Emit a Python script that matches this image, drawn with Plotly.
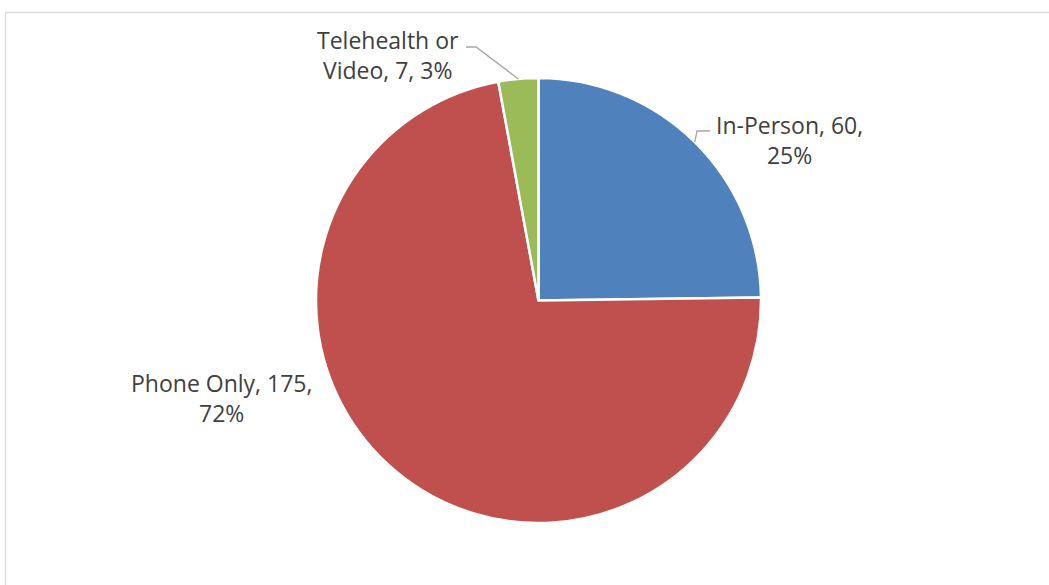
import math
import plotly.graph_objects as go

# ---- data ----
categories = ["In-Person", "Phone Only", "Telehealth or Video"]
values = [60, 175, 7]
colors = ["#4F81BD", "#C0504D", "#9BBB59"]
label_texts = ["In-Person, 60,<br>25%", "Phone Only, 175,<br>72%", "Telehealth or<br>Video, 7, 3%"]

W, H = 1049, 585
# pie geometry in pixels
cx, cy, r = 538.5, 300.5, 222.5

fig = go.Figure(go.Pie(
    labels=categories,
    values=values,
    sort=False,
    direction="clockwise",
    rotation=0,
    marker=dict(colors=colors, line=dict(color="white", width=2.5)),
    textinfo="none",
    hoverinfo="label+value+percent",
    showlegend=False,
    domain=dict(x=[(cx - r) / W, (cx + r) / W], y=[(H - cy - r) / H, (H - cy + r) / H]),
))

def px(x):
    return x / W

def py(y):
    return 1 - y / H

# label positions (pixels) and leader-line elbows
label_pos = {"In-Person": (789, 140), "Phone Only": (221, 398), "Telehealth or Video": (388, 55)}
elbows = {"In-Person": [(697, 131), (710, 131)], "Telehealth or Video": [(476, 47), (466, 47)]}

total = sum(values)
cum = 0
shapes = []
annotations = []
for cat, v, txt in zip(categories, values, label_texts):
    mid = (cum + v / 2) / total * 2 * math.pi
    cum += v
    ex = cx + r * math.sin(mid)
    ey = cy - r * math.cos(mid)
    lx, ly = label_pos[cat]
    annotations.append(dict(
        x=px(lx), y=py(ly), xref="paper", yref="paper", text=txt, showarrow=False,
        xanchor="center", yanchor="middle", align="center",
        font=dict(family="Open Sans", size=23, color="#404040"),
    ))
    if cat in elbows:
        pts = [(ex, ey)] + elbows[cat]
        path = "M " + " L ".join(f"{px(a):.5f},{py(b):.5f}" for a, b in pts)
        shapes.append(dict(type="path", xref="paper", yref="paper", path=path,
                           line=dict(color="#A6A6A6", width=1.3)))

# chart frame
shapes.append(dict(type="rect", xref="paper", yref="paper", x0=px(5.5), y0=-0.1, x1=1.1, y1=py(12.5),
                   line=dict(color="#D9D9D9", width=1.3), fillcolor="rgba(0,0,0,0)", layer="below"))

fig.update_layout(
    width=W, height=H,
    margin=dict(l=0, r=0, t=0, b=0),
    paper_bgcolor="white",
    plot_bgcolor="white",
    shapes=shapes,
    annotations=annotations,
)

fig.write_html("out.html", config={"displayModeBar": False},
               post_script="document.body.style.margin='0';")
